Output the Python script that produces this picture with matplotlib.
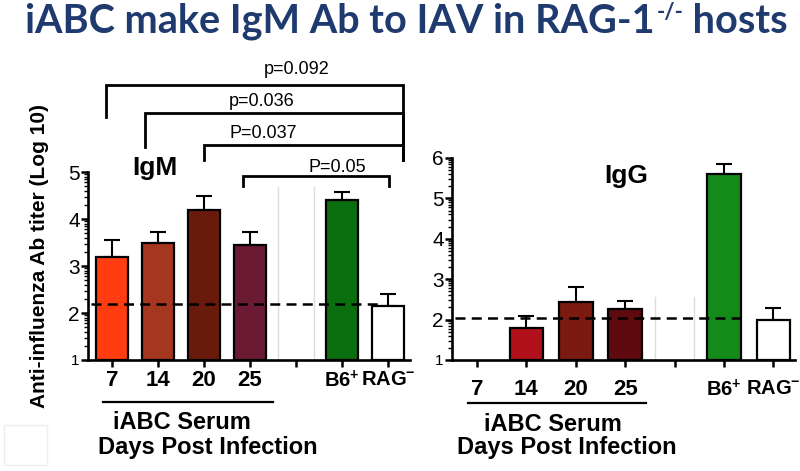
import numpy as np
import matplotlib
matplotlib.use("Agg")
import matplotlib.pyplot as plt
from matplotlib.patches import Rectangle

plt.rcParams['font.family'] = ['Liberation Sans', 'DejaVu Sans']
plt.rcParams['mathtext.fontset'] = 'custom'
plt.rcParams['mathtext.rm'] = 'Liberation Sans:bold'
plt.rcParams['mathtext.bf'] = 'Liberation Sans:bold'
plt.rcParams['mathtext.it'] = 'Liberation Sans:bold'

# ---- data ----
days = ['7', '14', '20', '25', '', 'B6$^{+}$', 'RAG$^{-}$']

igm_vals = [3.2, 3.5, 4.2, 3.45, np.nan, 4.4, 2.15]
igm_err = [0.35, 0.23, 0.28, 0.28, 0, 0.18, 0.25]
igm_colors = ['#ff3d10', '#a5361f', '#6a1a0b', '#6b1a33', 'none', '#0b6e0e', 'white']
igm_cutoff = 2.2

igg_vals = [np.nan, 1.78, 2.44, 2.26, np.nan, 5.6, 1.98]
igg_err = [0, 0.3, 0.36, 0.2, 0, 0.25, 0.3]
igg_colors = ['none', '#b0101a', '#7a1a10', '#5e0a0e', 'none', '#148a1a', 'white']
igg_cutoff = 2.04

# brackets: (x_left, x_right, y_top, y_left_leg, y_right_leg, label, label_x, label_y)
igm_brackets = [
    (-0.13, 6.33, 6.85, 6.17, 5.26, 'p=0.092', 4.02, 7.19),
    (0.72, 6.33, 6.26, 5.53, 5.26, 'p=0.036', 3.26, 6.51),
    (2.0, 6.33, 5.57, 5.26, 5.26, 'P=0.037', 3.28, 5.83),
    (2.85, 6.02, 4.91, 4.70, 4.70, 'P=0.05', 4.89, 5.09),
]

W, H = 800, 471
fig = plt.figure(figsize=(W / 100, H / 100), dpi=100)


def minor_log(lo, hi):
    out = []
    for n in range(lo, hi):
        for k in range(2, 10):
            out.append(n + np.log10(k))
    return out


def panel(rect, vals, errs, colors, cutoff, ymax, xlim, title, title_xy,
          sep_top, dash_x, label_pad, under, lab1, lab2):
    ax = fig.add_axes(rect)
    x = np.arange(len(days))
    v = np.array(vals)
    ax.bar(x, v - 1, bottom=1, width=0.68, color=colors,
           edgecolor=['k' if c != 'none' else 'none' for c in colors],
           linewidth=1.6, zorder=3)
    ax.errorbar(x, v, yerr=[np.zeros(len(v)), errs], fmt='none', ecolor='k',
                elinewidth=1.5, capsize=6, capthick=1.5, zorder=2)
    ax.hlines(cutoff, dash_x[0], dash_x[1], colors='k', linestyles=(0, (4, 2.5)),
              linewidth=1.8, zorder=4)
    for sx in (3.6, 4.39):
        ax.plot([sx, sx], [1, sep_top], color='#dddddd', lw=1, zorder=1)
    ax.set_xlim(*xlim)
    ax.set_ylim(1, ymax)
    ax.set_xticks(x)
    ax.set_xticklabels(days, fontsize=16, fontweight='bold')
    for lbl in ax.get_xticklabels()[5:]:
        lbl.set_fontsize(14.5)
    ax.set_yticks(range(1, ymax + 1))
    ax.set_yticklabels([str(i) for i in range(1, ymax + 1)], fontsize=15)
    ax.get_yticklabels()[0].set_fontsize(11)
    ax.set_yticks(minor_log(1, ymax), minor=True)
    ax.tick_params(axis='y', which='major', length=5, width=1.8, pad=1)
    ax.tick_params(axis='y', which='minor', length=3, width=1.0)
    ax.tick_params(axis='x', which='major', length=5, width=1.8, pad=label_pad)
    for s in ('top', 'right'):
        ax.spines[s].set_visible(False)
    for s in ('left', 'bottom'):
        ax.spines[s].set_linewidth(1.9)
    ax.text(title_xy[0], title_xy[1], title, fontsize=19, fontweight='bold',
            ha='center', va='center')
    tr = ax.get_xaxis_transform()
    ax.plot([under[0], under[1]], [under[2], under[2]], color='k', lw=1.6,
            transform=tr, clip_on=False)
    ax.text(lab1[0], lab1[1], 'iABC Serum', fontsize=17, fontweight='bold',
            ha='center', va='center', transform=tr)
    ax.text(lab2[0], lab2[1], 'Days Post Infection', fontsize=17,
            fontweight='bold', ha='center', va='center', transform=tr)
    return ax


axl = panel([0.11, 0.2357, 0.4025, 0.399], igm_vals, igm_err, igm_colors,
            igm_cutoff, 5, (-0.52, 6.48), 'IgM', (0.93, 5.09), 4.68,
            (-0.45, 5.83), 2, (-0.2, 3.5, -0.223), (1.52, -0.33), (2.09, -0.468))
axr = panel([0.565, 0.2357, 0.429, 0.4289], igg_vals, igg_err, igg_colors,
            igg_cutoff, 6, (-0.506, 6.44), 'IgG', (3.02, 5.55), 2.56,
            (-0.45, 5.45), 9, (-0.18, 3.42, -0.213), (1.54, -0.317), (1.82, -0.431))

for xl, xr, yt, yl, yr, lab, lx, ly in igm_brackets:
    axl.plot([xl, xl, xr, xr], [yl, yt, yt, yr], color='k', lw=2.0,
             clip_on=False, solid_joinstyle='miter')
    axl.text(lx, ly, lab, fontsize=13, ha='center', va='center')

fig.text(40 / W, 1 - 256 / H, 'Anti-influenza Ab titer (Log 10)', rotation=90,
         fontsize=15, fontweight='bold', ha='center', va='center')

# title with superscript
navy = '#1f3a6e'
tfont = dict(family=['Lato', 'DejaVu Sans'], fontweight='bold', color=navy)
yb = 1 - 33 / H
t1 = fig.text(25 / W, yb, 'iABC make IgM Ab to IAV in RAG-1', fontsize=28.5,
              va='baseline', **tfont)
fig.canvas.draw()
r = fig.canvas.get_renderer()
x1 = t1.get_window_extent(r).x1 / W
t2 = fig.text(x1 + 2 / W, yb + 14 / H, '-/-', fontsize=16, va='baseline', **tfont)
x2 = t2.get_window_extent(r).x1 / W
fig.text(x2, yb, ' hosts', fontsize=28.5, va='baseline', **tfont)

fig.add_artist(Rectangle((4 / W, 1 - 465 / H), 43 / W, 40 / H, fill=False,
                         edgecolor='#eeeeee', lw=1, transform=fig.transFigure))

fig.savefig('out.png', dpi=100)
